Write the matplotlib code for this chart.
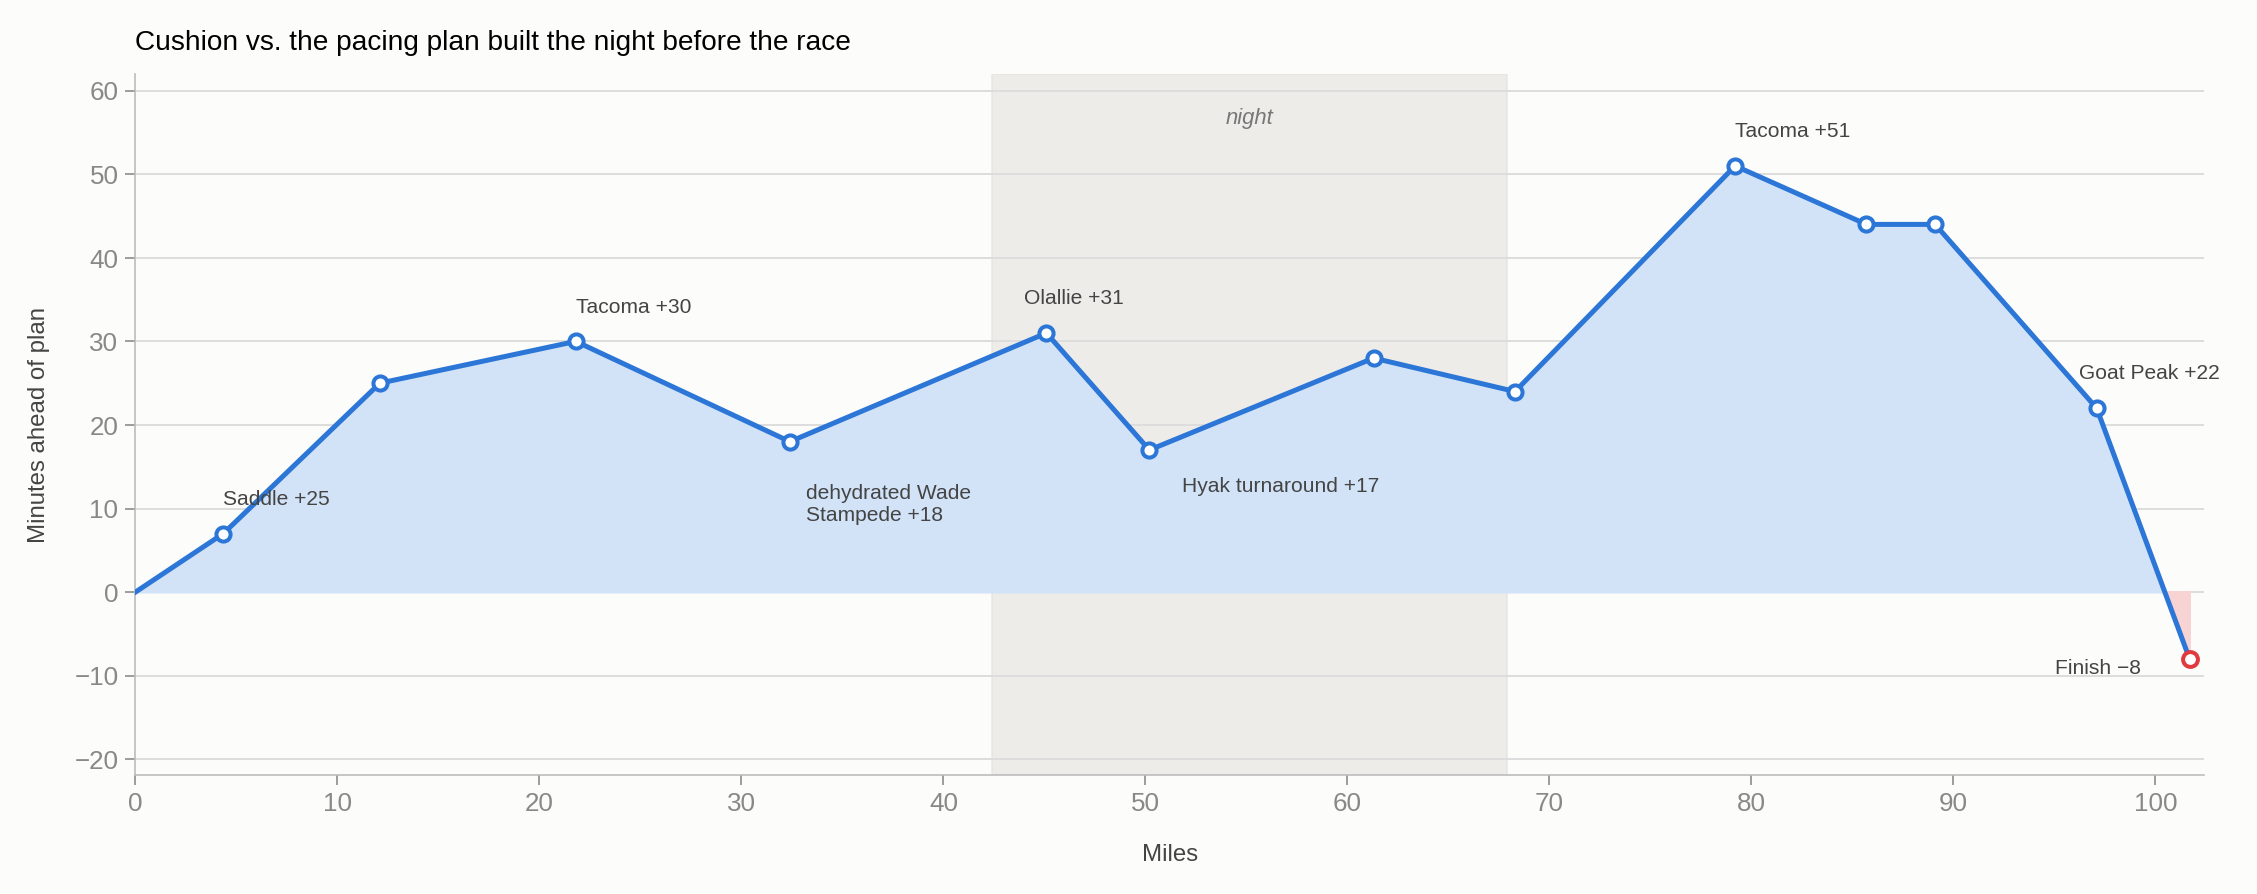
import numpy as np
import matplotlib
matplotlib.use('Agg')
import matplotlib.pyplot as plt

plt.rcParams['font.family'] = ['Liberation Sans', 'DejaVu Sans']

miles = [0, 4.35, 12.1, 21.8, 32.4, 45.1, 50.2, 61.3, 68.3, 79.2, 85.7, 89.1, 97.1, 101.7]
cushion = [0, 7, 25, 30, 18, 31, 17, 28, 24, 51, 44, 44, 22, -8]
night = (42.4, 67.9)

labels = [
    (4.35, 7, 'Saddle +25', 0, 3.0, 'left'),
    (21.8, 30, 'Tacoma +30', 0, 3.0, 'left'),
    (32.4, 18, 'dehydrated Wade\nStampede +18', 0.8, -10, 'left'),
    (45.1, 31, 'Olallie +31', -1.1, 3.0, 'left'),
    (50.2, 17, 'Hyak turnaround +17', 1.6, -5.5, 'left'),
    (79.2, 51, 'Tacoma +51', 0, 3.0, 'left'),
    (97.1, 22, 'Goat Peak +22', -0.9, 3.0, 'left'),
    (101.7, -8, 'Finish \u22128', -2.4, -2.2, 'right'),
]

bg = '#fcfcfa'
fig, ax = plt.subplots(figsize=(15.68, 6.21), dpi=144)
fig.patch.set_facecolor(bg)
ax.set_facecolor(bg)
fig.subplots_adjust(left=0.06, right=0.976, top=0.917, bottom=0.133)

ax.axvspan(*night, color='#e4e2dd', alpha=0.6, zorder=0)
ax.text(sum(night) / 2, 55.5, 'night', style='italic', color='#777777',
        ha='center', va='bottom', fontsize=11)

x = np.array(miles)
y = np.array(cushion)
ax.fill_between(x, 0, y, where=y >= 0, interpolate=True, color='#d2e3f8', zorder=1)
ax.fill_between(x, 0, y, where=y <= 0, interpolate=True, color='#f7d3d3', zorder=1)
ax.plot(x, y, color='#2b76d6', lw=2.5, zorder=3)
ax.scatter(x[1:-1], y[1:-1], s=50, facecolor='white', edgecolor='#2b76d6', lw=2, zorder=4)
ax.scatter(x[-1:], y[-1:], s=55, facecolor='white', edgecolor='#e0393e', lw=2, zorder=4)

for px, py, txt, dx, dy, ha in labels:
    ax.text(px + dx, py + dy, txt, fontsize=10.5, color='#444444', ha=ha, va='bottom')

ax.set_xlim(0, 102.4)
ax.set_ylim(-21.9, 62)
ax.set_xticks(range(0, 101, 10))
ax.set_yticks(range(-20, 61, 10))
ax.set_yticklabels([f'{v}'.replace('-', '\u2212') for v in range(-20, 61, 10)])
ax.grid(axis='y', color='#dddddd', lw=1)
ax.set_axisbelow(True)
for s in ['top', 'right']:
    ax.spines[s].set_visible(False)
for s in ['left', 'bottom']:
    ax.spines[s].set_color('#bbbbbb')
ax.tick_params(colors='#888888', labelsize=13, length=5)
ax.set_xlabel('Miles', fontsize=12, color='#444444', labelpad=14)
ax.set_ylabel('Minutes ahead of plan', fontsize=12, color='#444444', labelpad=12)
ax.set_title('Cushion vs. the pacing plan built the night before the race',
             loc='left', fontsize=14, pad=12)

fig.savefig('out.png', dpi=144, facecolor=bg)
